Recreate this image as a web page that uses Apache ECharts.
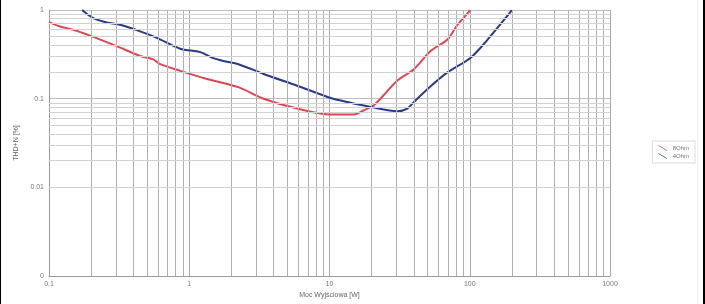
<!DOCTYPE html>
<html>
<head>
<meta charset="utf-8">
<script src="https://cdn.jsdelivr.net/npm/echarts@6/dist/echarts.min.js"></script>
<style>html,body{margin:0;padding:0;background:#fff;}#c{width:705px;height:304px;}</style>
</head>
<body>
<div id="c"></div>
<script>
// Data (x: output power [W], y: THD+N [%])
var seriesNames = ['8Ohm', '4Ohm'];
var xTickLabels = ['0.1', '1', '10', '100', '1000'];
var yTickLabels = ['0', '0.01', '0.1', '1'];
var red8x = [0.1, 0.12, 0.149, 0.196, 0.304, 0.447, 0.553, 0.621, 0.862, 1.34, 2.24, 3.39, 5.88, 10.2, 14.9, 17.6, 20.7, 23.1, 30.5, 40.0, 52.6, 69.3, 81.7, 98.9, 100];
var red8y = [0.73, 0.652, 0.599, 0.514, 0.391, 0.303, 0.278, 0.245, 0.206, 0.167, 0.135, 0.1, 0.0774, 0.0664, 0.0664, 0.0741, 0.0843, 0.1, 0.16, 0.215, 0.344, 0.464, 0.681, 0.957, 1.0];
var blue4x = [0.172, 0.207, 0.258, 0.321, 0.447, 0.588, 0.862, 1.2, 1.45, 1.75, 2.24, 3.39, 5.88, 10.2, 13.4, 19.6, 30.5, 35.9, 40.0, 52.6, 69.3, 101.6, 134, 196, 199];
var blue4y = [1.0, 0.809, 0.723, 0.681, 0.574, 0.485, 0.366, 0.335, 0.29, 0.266, 0.245, 0.19, 0.14, 0.102, 0.0919, 0.0809, 0.0723, 0.0774, 0.0919, 0.138, 0.198, 0.29, 0.464, 0.957, 1.0];

function pairs(xs, ys) { var o = []; for (var i = 0; i < xs.length; i++) o.push([xs[i], ys[i]]); return o; }

// minor grid values (2..9 per decade)
var minorX = [], minorY = [];
for (var d = -1; d < 3; d++) for (var k = 2; k <= 9; k++) minorX.push(k * Math.pow(10, d));
for (var d2 = -3; d2 < 0; d2++) for (var k2 = 2; k2 <= 9; k2++) minorY.push(k2 * Math.pow(10, d2));

var chart = echarts.init(document.getElementById('c'), null, {renderer: 'canvas'});
var lblFont = {color: '#777', fontSize: 7, fontFamily: 'Liberation Sans'};
chart.setOption({
  animation: false,
  backgroundColor: '#fff',
  grid: {left: 49, right: 95, top: 10, bottom: 24, containLabel: false},
  xAxis: {
    type: 'log', logBase: 10, min: 0.1, max: 1000,
    name: 'Moc Wyjściowa [W]', nameLocation: 'middle', nameGap: 11,
    nameTextStyle: {color: '#666', fontSize: 7, fontFamily: 'Liberation Sans'},
    axisLine: {show: true, lineStyle: {color: '#999', width: 1}},
    axisTick: {show: false},
    axisLabel: Object.assign({margin: 4, formatter: function (v) {
      var i = Math.round(Math.log10(v)) + 1; return xTickLabels[i] || '';
    }}, lblFont),
    splitLine: {show: true, lineStyle: {color: '#a8a8a8', width: 1}}
  },
  yAxis: {
    type: 'log', logBase: 10, min: 0.001, max: 1,
    name: 'THD+N [%]', nameLocation: 'middle', nameGap: 28, nameRotate: 90,
    nameTextStyle: {color: '#666', fontSize: 7, fontFamily: 'Liberation Sans'},
    axisLine: {show: true, lineStyle: {color: '#999', width: 1}},
    axisTick: {show: false},
    axisLabel: Object.assign({margin: 5, formatter: function (v) {
      var i = Math.round(Math.log10(v)) + 3; return yTickLabels[i] || '';
    }}, lblFont),
    splitLine: {show: true, lineStyle: {color: '#bdbdbd', width: 1}}
  },
  legend: {
    right: 10, top: 141, orient: 'vertical', itemWidth: 10, itemHeight: 6, itemGap: 2,
    padding: [4, 6], borderColor: '#ddd', borderWidth: 1,
    textStyle: {color: '#777', fontSize: 6, fontFamily: 'Liberation Sans'},
    data: [{name: seriesNames[0], icon: 'path://M0,0L10,6L10,7L0,1Z'}, {name: seriesNames[1], icon: 'path://M0,0L10,6L10,7L0,1Z'}]
  },
  series: [
    {
      type: 'line', data: [], silent: true, z: 1,
      markLine: {
        silent: true, symbol: 'none', label: {show: false}, animation: false,
        lineStyle: {color: '#b0b0b0', width: 1, type: 'solid'},
        data: minorX.map(function (v) { return {xAxis: v}; })
      }
    },
    {
      type: 'line', data: [], silent: true, z: 1,
      markLine: {
        silent: true, symbol: 'none', label: {show: false}, animation: false,
        lineStyle: {color: '#d2d2d2', width: 1, type: 'solid'},
        data: minorY.map(function (v) { return {yAxis: v}; })
      }
    },
    {
      name: seriesNames[0], type: 'line', data: pairs(red8x, red8y), showSymbol: false, smooth: 0.3, z: 3,
      lineStyle: {color: '#e04552', width: 2}, itemStyle: {color: '#e04552'}
    },
    {
      name: seriesNames[1], type: 'line', data: pairs(blue4x, blue4y), showSymbol: false, smooth: 0.3, z: 3,
      lineStyle: {color: '#2b3a86', width: 2}, itemStyle: {color: '#2b3a86'}
    }
  ],
  graphic: [
    {type: 'rect', left: 0, top: 0, shape: {width: 1, height: 304}, style: {fill: '#000'}, silent: true},
    {type: 'rect', left: 703, top: 0, shape: {width: 2, height: 304}, style: {fill: '#000'}, silent: true},
    {type: 'rect', left: 697, top: 0, shape: {width: 1, height: 304}, style: {fill: '#eee'}, silent: true}
  ]
});
</script>
</body>
</html>
